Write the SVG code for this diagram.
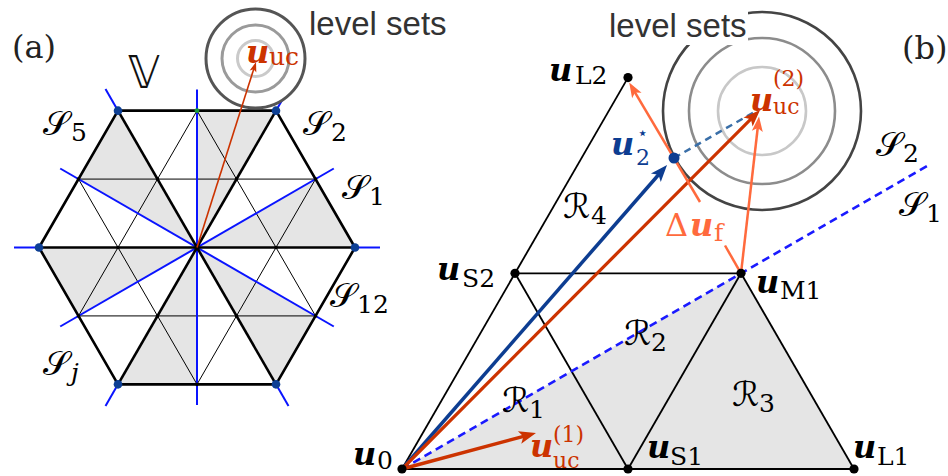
<svg xmlns="http://www.w3.org/2000/svg" width="948" height="476" viewBox="0 0 948 476">
<style>
.m{font-family:"DejaVu Serif",serif}
.bu{font-family:"DejaVu Serif",serif;font-weight:bold;font-style:italic;font-size:32px}
.sb{font-family:"DejaVu Serif",serif;font-size:25px}
.ss{font-family:"DejaVu Serif",serif;font-size:22px}
.cal{font-family:"DejaVu Serif","DejaVu Sans",serif;font-size:34px}
.lv{font-family:"Liberation Sans",sans-serif;font-size:33px;fill:#333}
.thin{stroke:#000;stroke-width:1;fill:none}
.thick{stroke:#000;stroke-width:2.6;fill:none;stroke-linejoin:round}
.blue{stroke:#0a14ff;stroke-width:2;fill:none}
.gray{fill:#e5e5e5;stroke:none}
.edge{stroke:#000;stroke-width:1.8;fill:none}
.red{fill:#cc3300}
.org{fill:#ff6a3d}
.blu{fill:#0d3d91}
</style>
<defs>
<marker id="ah-red" markerUnits="userSpaceOnUse" orient="auto" markerWidth="17" markerHeight="13" refX="11" refY="6.5" overflow="visible"><path d="M0,0 L17,6.5 L0,13 L4,6.5 Z" fill="#cc3300"/></marker>
<marker id="ah-blue" markerUnits="userSpaceOnUse" orient="auto" markerWidth="17" markerHeight="13" refX="11" refY="6.5" overflow="visible"><path d="M0,0 L17,6.5 L0,13 L4,6.5 Z" fill="#0d3d91"/></marker>
<marker id="ah-org" markerUnits="userSpaceOnUse" orient="auto" markerWidth="15" markerHeight="11" refX="9.5" refY="5.5" overflow="visible"><path d="M0,0 L15,5.5 L0,11 L3.5,5.5 Z" fill="#ff6a3d"/></marker>
<marker id="ah-red-s" markerUnits="userSpaceOnUse" orient="auto" markerWidth="10" markerHeight="7" refX="6" refY="3.5" overflow="visible"><path d="M0,0 L10,3.5 L0,7 L2.5,3.5 Z" fill="#cc3300"/></marker>
</defs>
<rect width="948" height="476" fill="#fff"/>

<!-- ===== Panel (a) ===== -->
<g id="panel-a">
 <g id="hex-shading">
  <polygon class="gray" points="197,247.5 355,247.5 315.5,179.08"/>
  <polygon class="gray" points="197,247.5 276,110.67 197,110.67"/>
  <polygon class="gray" points="197,247.5 118,110.67 78.5,179.08"/>
  <polygon class="gray" points="197,247.5 39,247.5 78.5,315.92"/>
  <polygon class="gray" points="197,247.5 118,384.33 197,384.33"/>
  <polygon class="gray" points="197,247.5 276,384.33 315.5,315.92"/>
 </g>
 <g id="hex-lattice">
  <line class="thin" x1="78.5" y1="179.08" x2="315.5" y2="179.08"/>
  <line class="thin" x1="78.5" y1="315.92" x2="315.5" y2="315.92"/>
  <line class="thin" x1="78.5" y1="315.92" x2="197" y2="110.67"/>
  <line class="thin" x1="197" y1="384.33" x2="315.5" y2="179.08"/>
  <line class="thin" x1="78.5" y1="179.08" x2="197" y2="384.33"/>
  <line class="thin" x1="197" y1="110.67" x2="315.5" y2="315.92"/>
 </g>
 <g id="sector-lines">
  <line class="blue" x1="333.8" y1="168.5" x2="60.2" y2="326.5"/>
  <line class="blue" x1="197" y1="89.5" x2="197" y2="405"/>
  <line class="blue" x1="60.2" y1="168.5" x2="333.8" y2="326.5"/>
  <line class="blue" x1="355" y1="247.5" x2="380" y2="247.5"/>
  <line class="blue" x1="276" y1="110.67" x2="288.5" y2="89"/>
  <line class="blue" x1="118" y1="110.67" x2="105.5" y2="89"/>
  <line class="blue" x1="39" y1="247.5" x2="14" y2="247.5"/>
  <line class="blue" x1="118" y1="384.33" x2="105.5" y2="406"/>
  <line class="blue" x1="276" y1="384.33" x2="288.5" y2="406"/>
 </g>
 <g id="hexagon">
  <polygon class="thick" points="355,247.5 276,110.67 118,110.67 39,247.5 118,384.33 276,384.33"/>
  <line class="thick" x1="39" y1="247.5" x2="355" y2="247.5"/>
  <line class="thick" x1="118" y1="110.67" x2="276" y2="384.33"/>
  <line class="thick" x1="276" y1="110.67" x2="118" y2="384.33"/>
 </g>
 <g id="hex-points">
  <g fill="#000">
   <circle cx="197" cy="247.5" r="2"/>
   <circle cx="157.5" cy="179.08" r="1.8"/><circle cx="236.5" cy="179.08" r="1.8"/>
   <circle cx="157.5" cy="315.92" r="1.8"/><circle cx="236.5" cy="315.92" r="1.8"/>
   <circle cx="118" cy="247.5" r="1.8"/><circle cx="276" cy="247.5" r="1.8"/>
   <circle cx="315.5" cy="179.08" r="1.8"/><circle cx="78.5" cy="179.08" r="1.8"/>
   <circle cx="78.5" cy="315.92" r="1.8"/><circle cx="315.5" cy="315.92" r="1.8"/>
   <circle cx="197" cy="384.33" r="1.8"/>
  </g>
  <circle cx="197" cy="110.67" r="2.4" fill="#1a9a3a"/>
  <g fill="#0d3f94">
   <circle cx="355" cy="247.5" r="4.3"/><circle cx="276" cy="110.67" r="4.3"/>
   <circle cx="118" cy="110.67" r="4.3"/><circle cx="39" cy="247.5" r="4.3"/>
   <circle cx="118" cy="384.33" r="4.3"/><circle cx="276" cy="384.33" r="4.3"/>
  </g>
 </g>
 <g id="level-sets-a">
  <circle cx="255.5" cy="58.5" r="49.5" fill="#fff" stroke="#555" stroke-width="3"/>
  <circle cx="255.5" cy="58.5" r="33.5" fill="none" stroke="#9a9a9a" stroke-width="3"/>
  <circle cx="255.5" cy="58.5" r="18" fill="none" stroke="#cacaca" stroke-width="3"/>
  <text class="lv" x="309" y="35">level sets</text>
 </g>
 <g id="arrow-a">
  <line x1="197" y1="247.5" x2="254.8" y2="65.8" stroke="#cc3300" stroke-width="1.6" marker-end="url(#ah-red-s)"/>
 </g>
 <g id="labels-a">
  <text class="m" x="12" y="58" font-size="32" fill="#222">(a)</text>
  <text x="128" y="88" font-family="DejaVu Sans,'DejaVu Serif',serif" font-size="44" fill="#111">𝕍</text>
  <text class="cal" x="43" y="135">𝒮</text><text class="sb" x="71" y="141">5</text>
  <text class="cal" x="303" y="135">𝒮</text><text class="sb" x="331" y="141">2</text>
  <text class="cal" x="342" y="199">𝒮</text><text class="sb" x="369" y="205">1</text>
  <text class="cal" x="330" y="307">𝒮</text><text class="sb" x="357" y="313">12</text>
  <text class="cal" x="43" y="375">𝒮</text><text class="sb" x="71" y="381" font-style="italic">j</text>
  <text class="bu red" x="246" y="63">u</text><text class="sb red" x="269" y="65">uc</text>
 </g>
</g>

<!-- ===== Panel (b) ===== -->
<g id="panel-b">
 <polygon id="region-gray" class="gray" points="402,469 854,469 741,273.3"/>
 <g id="edges">
  <line class="edge" x1="402" y1="469" x2="854" y2="469"/>
  <line class="edge" x1="402" y1="469" x2="628" y2="77.6"/>
  <line class="edge" x1="854" y1="469" x2="741" y2="273.3"/>
  <line class="edge" x1="515" y1="273.3" x2="741" y2="273.3"/>
  <line class="edge" x1="515" y1="273.3" x2="628" y2="469"/>
  <line class="edge" x1="628" y1="469" x2="741" y2="273.3"/>
 </g>
 <line id="boundary-S1-S2" x1="402" y1="469" x2="927" y2="166" stroke="#1a1aff" stroke-width="2.6" stroke-dasharray="8 5"/>
 <g id="level-sets-b">
  <circle cx="762" cy="111" r="99" fill="none" stroke="#444" stroke-width="2.6"/>
  <circle cx="762" cy="111" r="73" fill="none" stroke="#8c8c8c" stroke-width="2.6"/>
  <circle cx="762" cy="111" r="44" fill="none" stroke="#c8c8c8" stroke-width="2.6"/>
  <rect x="606" y="4" width="142" height="41" fill="#fff"/>
  <text class="lv" x="609" y="37">level sets</text>
 </g>
 <g id="connectors">
  <line x1="674" y1="158" x2="757" y2="110.5" stroke="#3a6fa8" stroke-width="2.5" stroke-dasharray="7 5"/>
  <line x1="402" y1="469" x2="663.1" y2="169.5" stroke="#0d3d91" stroke-width="3.5" marker-end="url(#ah-blue)"/>
  <line x1="402" y1="469" x2="755.8" y2="114.2" stroke="#cc3300" stroke-width="3.2" marker-end="url(#ah-red)"/>
  <line x1="741" y1="273.3" x2="758.4" y2="122" stroke="#ff6a3d" stroke-width="2.5" marker-end="url(#ah-org)"/>
  <line x1="741" y1="273.3" x2="725" y2="245.5" stroke="#ff6a3d" stroke-width="2.5"/>
  <line x1="700" y1="202" x2="632" y2="87.3" stroke="#ff6a3d" stroke-width="2.5" marker-end="url(#ah-org)"/>
  <line x1="402" y1="469" x2="530.2" y2="434.6" stroke="#cc3300" stroke-width="3.5" marker-end="url(#ah-red)"/>
 </g>
 <g id="node-u0"><circle cx="402" cy="469" r="4.6"/><text class="bu" x="353" y="465">u</text><text class="sb" x="377" y="469">0</text></g>
 <g id="node-uS1"><circle cx="628" cy="469" r="4.6"/><text class="bu" x="647" y="458">u</text><text class="sb" x="670" y="465">S1</text></g>
 <g id="node-uL1"><circle cx="854" cy="469" r="4.6"/><text class="bu" x="853" y="458">u</text><text class="sb" x="877" y="465">L1</text></g>
 <g id="node-uM1"><circle cx="741" cy="273.3" r="4.6"/><text class="bu" x="756" y="293">u</text><text class="sb" x="780" y="299">M1</text></g>
 <g id="node-uS2"><circle cx="515" cy="273.3" r="4.6"/><text class="bu" x="437" y="280">u</text><text class="sb" x="462" y="287">S2</text></g>
 <g id="node-uL2"><circle cx="628" cy="77.6" r="4.6"/><text class="bu" x="549" y="81">u</text><text class="sb" x="575" y="84">L2</text></g>
 <g id="node-u2star"><circle cx="674" cy="158" r="5.5" fill="#0d3d91"/><text class="bu blu" x="611" y="155">u</text><text class="ss blu" x="636" y="165">2</text><text x="637" y="139" font-family="DejaVu Sans,sans-serif" font-size="18" class="blu">⋆</text></g>
 <g id="node-uuc2"><text class="bu red" x="750" y="111">u</text><text class="ss red" x="773" y="114">uc</text><text class="ss red" x="773" y="86">(2)</text></g>
 <g id="node-uuc1"><text class="bu red" x="530" y="457">u</text><text class="ss red" x="553" y="468">uc</text><text class="ss red" x="553" y="442">(1)</text></g>
 <g id="label-duf"><text class="m org" x="665" y="236" font-size="32">Δ</text><text class="bu org" x="690" y="236">u</text><text class="sb org" x="714" y="241">f</text></g>
 <g id="region-labels">
  <text class="cal" x="563" y="218">ℛ</text><text class="sb" x="591" y="224">4</text>
  <text class="cal" x="624" y="345">ℛ</text><text class="sb" x="651" y="351">2</text>
  <text class="cal" x="502" y="412">ℛ</text><text class="sb" x="529" y="418">1</text>
  <text class="cal" x="732" y="406">ℛ</text><text class="sb" x="759" y="412">3</text>
  <text class="cal" x="876" y="156">𝒮</text><text class="sb" x="903" y="162">2</text>
  <text class="cal" x="899" y="216">𝒮</text><text class="sb" x="926" y="222">1</text>
 </g>
 <text class="m" x="902" y="59" font-size="32" fill="#222">(b)</text>
</g>
</svg>
